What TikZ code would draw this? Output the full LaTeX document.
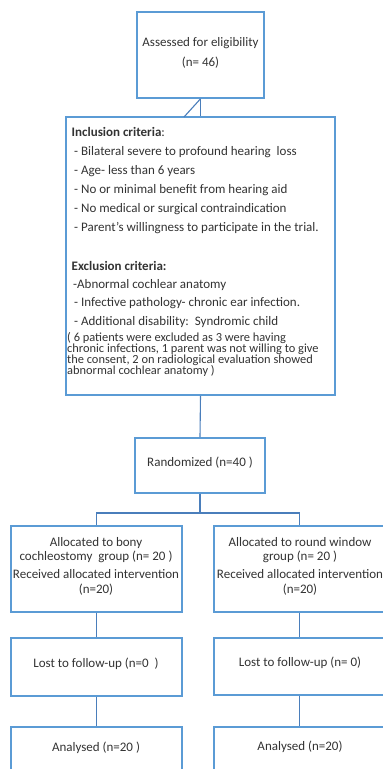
\documentclass[tikz,border=0pt]{standalone}
\usepackage{fontspec}
\setmainfont{Carlito}
\definecolor{bord}{HTML}{5B9BD5}
\definecolor{conncol}{HTML}{4A7EBB}
\definecolor{txt}{HTML}{333333}
\begin{document}
\begin{tikzpicture}[x=1pt,y=-1pt,
 box/.style={draw=bord,line width=1.6pt,inner sep=0pt,fill=white},
 link/.style={draw=conncol,line width=1.1pt},
 tx/.style={anchor=base,inner sep=0pt,text=txt,font=\fontsize{13}{15}\selectfont},
 tl/.style={tx,anchor=base west},
 ts/.style={tl,font=\fontsize{12.4}{11}\selectfont}]
\useasboundingbox (0,0) rectangle (383,769);
% boxes
\node[box,minimum width=127pt,minimum height=86pt] (top) at (200.5,55) {};
\node[box,minimum width=269pt,minimum height=278pt] (big) at (200.5,256) {};
\node[box,minimum width=130pt,minimum height=55pt] (rand) at (200,465.5) {};
\node[box,minimum width=171pt,minimum height=86pt] (L1) at (96.5,569) {};
\node[box,minimum width=171pt,minimum height=86pt] (R1) at (299.5,569) {};
\node[box,minimum width=171pt,minimum height=58pt] (L2) at (96.5,667) {};
\node[box,minimum width=171pt,minimum height=57pt] (R2) at (299.5,666.5) {};
\node[box,minimum width=171pt,minimum height=63pt] (L3) at (96.5,758.5) {};
\node[box,minimum width=171pt,minimum height=63pt] (R3) at (299.5,758.5) {};
% connectors
\coordinate (d) at (184,117);
\coordinate (m) at (200,513);
\draw[link] (top.south) -- (big.north);
\draw[link] (d) -- (top.south);
\draw[link] (big.south) -- (rand.north);
\draw[link] (rand.south) -- (m);
\draw[link] (L1.north) |- (m) -| (R1.north);
\draw[link] (L1.south) -- (L2.north);
\draw[link] (L2.south) -- (L3.north);
\draw[link] (R1.south) -- (R2.north);
\draw[link] (R2.south) -- (R3.north);
% texts
\node[tx] (t1) at (200.5,46) {Assessed for eligibility};
\node[tx] (t2) at (200.5,66) {(n= 46)};
\node[tl] (i0) at (71.5,136) {\textbf{Inclusion criteria}:};
\node[tl] (i1) at (74,155) {- Bilateral severe to profound hearing\ \ loss};
\node[tl] (i2) at (74,174) {- Age- less than 6 years};
\node[tl] (i3) at (74,193) {- No or minimal benefit from hearing aid};
\node[tl] (i4) at (74,212) {- No medical or surgical contraindication};
\node[tl] (i5) at (74,231) {- Parent’s willingness to participate in the trial.};
\node[tl] (e0) at (71.5,270) {\textbf{Exclusion criteria:}};
\node[tl] (e1) at (73,288) {-Abnormal cochlear anatomy};
\node[tl] (e2) at (74,306) {- Infective pathology- chronic ear infection.};
\node[tl] (e3) at (74,325) {- Additional disability:\ \ Syndromic child};
\node[ts] (p1) at (67,341) {( 6 patients were excluded as 3 were having};
\node[ts] (p2) at (67,352) {chronic infections, 1 parent was not willing to give};
\node[ts] (p3) at (67,363) {the consent, 2 on radiological evaluation showed};
\node[ts] (p4) at (67,374) {abnormal cochlear anatomy )};
\node[tx] (r1) at (200,466) {Randomized (n=40 )};
\node[tx] (a1) at (96,546) {Allocated to bony};
\node[tx] (a2) at (96,560) {cochleostomy\ \ group (n= 20 )};
\node[tx] (a3) at (96,578) {Received allocated intervention};
\node[tx] (a4) at (96,593) {(n=20)};
\node[tx] (b1) at (300,546) {Allocated to round window};
\node[tx] (b2) at (300,560) {group (n= 20 )};
\node[tx] (b3) at (300,578) {Received allocated intervention};
\node[tx] (b4) at (300,593) {(n=20)};
\node[tx] (l1) at (96,667) {Lost to follow-up (n=0\ \ )};
\node[tx] (l2) at (300,666) {Lost to follow-up (n= 0)};
\node[tx] (n1) at (96,751) {Analysed (n=20 )};
\node[tx] (n2) at (300,750) {Analysed (n=20)};
\end{tikzpicture}
\end{document}
